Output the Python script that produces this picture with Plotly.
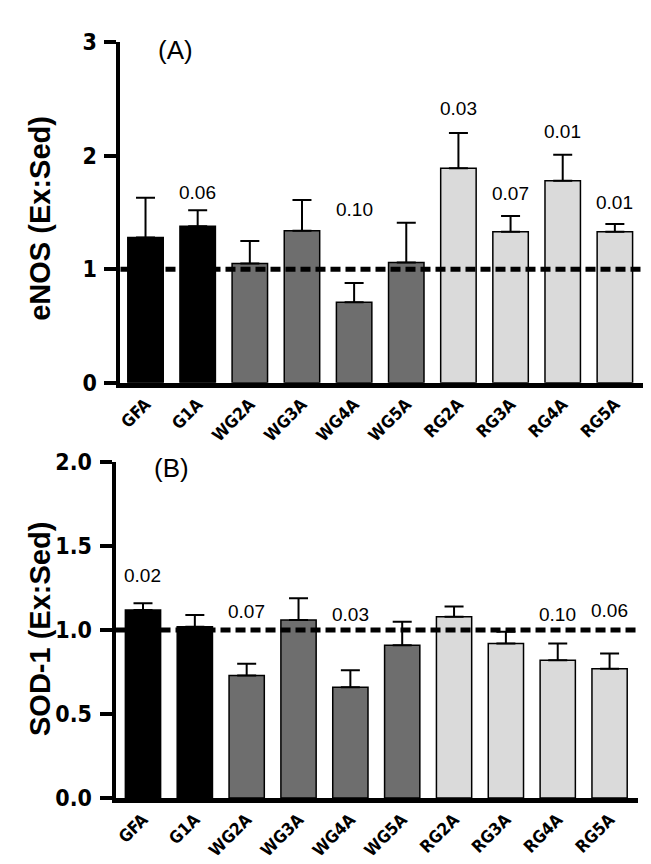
import plotly.graph_objects as go

# ---------------- data ----------------
CATEGORIES = ["GFA", "G1A", "WG2A", "WG3A", "WG4A", "WG5A", "RG2A", "RG3A", "RG4A", "RG5A"]
GROUPS = ["G", "G", "WG", "WG", "WG", "WG", "RG", "RG", "RG", "RG"]

ENOS_MEAN = [1.28, 1.38, 1.05, 1.34, 0.71, 1.06, 1.89, 1.33, 1.78, 1.33]
ENOS_SEM = [0.35, 0.14, 0.20, 0.27, 0.17, 0.35, 0.31, 0.14, 0.23, 0.07]
ENOS_P = ["", "0.06", "", "", "0.10", "", "0.03", "0.07", "0.01", "0.01"]

SOD_MEAN = [1.12, 1.02, 0.73, 1.06, 0.66, 0.91, 1.08, 0.92, 0.82, 0.77]
SOD_SEM = [0.04, 0.07, 0.07, 0.13, 0.10, 0.14, 0.06, 0.07, 0.10, 0.09]
SOD_P = ["0.02", "", "0.07", "", "0.03", "", "", "", "0.10", "0.06"]

REFERENCE = 1.0

ENOS_TICKS = [0, 1, 2, 3]
SOD_TICKS = [0.0, 0.5, 1.0, 1.5, 2.0]

# ---------------- layout helpers (positions / styles) ----------------
ENOS_P_Y = [None, 1.675, None, None, 1.526, None, 2.417, 1.664, 2.21, 1.589]
SOD_P_Y = [1.323, None, 1.108, None, 1.093, None, None, None, 1.093, 1.114]

GROUP_COLORS = {"G": "#000000", "WG": "#6e6e6e", "RG": "#dadada"}
FONT = "Arial, Liberation Sans, sans-serif"
NARROW = "Liberation Sans Narrow, Arial Narrow, DejaVu Sans Condensed, sans-serif"

W, H = 651, 864


def px_x(p):
    return p / W


def px_y(p):
    return 1 - p / H


fig = go.Figure()
colors = [GROUP_COLORS[g] for g in GROUPS]
xs = list(range(len(CATEGORIES)))

for means, sems, xa, ya in [(ENOS_MEAN, ENOS_SEM, "x", "y"), (SOD_MEAN, SOD_SEM, "x2", "y2")]:
    fig.add_trace(go.Bar(
        x=xs, y=means, xaxis=xa, yaxis=ya,
        marker=dict(color=colors, line=dict(color="black", width=1.5)),
        error_y=dict(type="data", array=sems, arrayminus=[0] * len(sems), symmetric=False,
                     color="black", thickness=2, width=9.5),
        showlegend=False, hoverinfo="skip",
    ))

xaxis_common = dict(
    tickmode="array", tickvals=xs, ticktext=CATEGORIES, tickangle=-45,
    tickfont=dict(family=NARROW, size=17, color="black", weight="bold"),
    showline=True, linecolor="black", linewidth=5, ticks="",
    showgrid=False, zeroline=False, fixedrange=True,
)
yaxis_common = dict(
    showline=True, linecolor="black", linewidth=4, ticks="outside", ticklen=12, tickwidth=4,
    tickcolor="black", tickfont=dict(family=NARROW, size=23, color="black", weight="bold"),
    ticklabelstandoff=3,
    showgrid=False, zeroline=False, fixedrange=True,
)

fig.update_layout(
    width=W, height=H, margin=dict(l=0, r=0, t=0, b=0),
    paper_bgcolor="white", plot_bgcolor="white", bargap=0.32,
    xaxis=dict(xaxis_common, domain=[px_x(110), px_x(636)], range=[-0.48, 9.56], anchor="y"),
    yaxis=dict(yaxis_common, domain=[px_y(373), px_y(22)], range=[0, 3],
               tickvals=ENOS_TICKS, ticktext=[str(t) for t in ENOS_TICKS], anchor="x"),
    xaxis2=dict(xaxis_common, domain=[px_x(105), px_x(630)], range=[-0.53, 9.55], anchor="y2"),
    yaxis2=dict(yaxis_common, domain=[px_y(801), px_y(455)], range=[0, 2],
                tickvals=SOD_TICKS, ticktext=[f"{t:.1f}" for t in SOD_TICKS], anchor="x2"),
)

# reference dashed lines
for xr, yr in [("x domain", "y"), ("x2 domain", "y2")]:
    fig.add_shape(type="line", xref=xr, yref=yr, x0=0, x1=1, y0=REFERENCE, y1=REFERENCE,
                  line=dict(color="black", width=5, dash="10px,5px"), layer="above")

# p-value labels
for labels, ys, xa, ya in [(ENOS_P, ENOS_P_Y, "x", "y"), (SOD_P, SOD_P_Y, "x2", "y2")]:
    for i, (lab, yy) in enumerate(zip(labels, ys)):
        if lab:
            fig.add_annotation(x=xs[i], y=yy, xref=xa, yref=ya, text=lab, showarrow=False,
                               font=dict(family=FONT, size=19, color="black"),
                               xanchor="center", yanchor="middle")

# panel letters
fig.add_annotation(x=px_x(165), y=px_y(30), xref="paper", yref="paper", text="(A)",
                   showarrow=False, font=dict(family=FONT, size=26, color="black"),
                   xanchor="center", yanchor="middle")
fig.add_annotation(x=px_x(161), y=px_y(461), xref="paper", yref="paper", text="(B)",
                   showarrow=False, font=dict(family=FONT, size=26, color="black"),
                   xanchor="center", yanchor="middle")

# y-axis titles
fig.add_annotation(x=px_x(29), y=px_y(203), xref="paper", yref="paper", text="eNOS (Ex:Sed)",
                   textangle=-90, showarrow=False,
                   font=dict(family=FONT, size=29, color="black", weight="bold"),
                   xanchor="center", yanchor="middle")
fig.add_annotation(x=px_x(29), y=px_y(627), xref="paper", yref="paper", text="SOD-1 (Ex:Sed)",
                   textangle=-90, showarrow=False,
                   font=dict(family=FONT, size=29, color="black", weight="bold"),
                   xanchor="center", yanchor="middle")

fig.write_html("out.html")
